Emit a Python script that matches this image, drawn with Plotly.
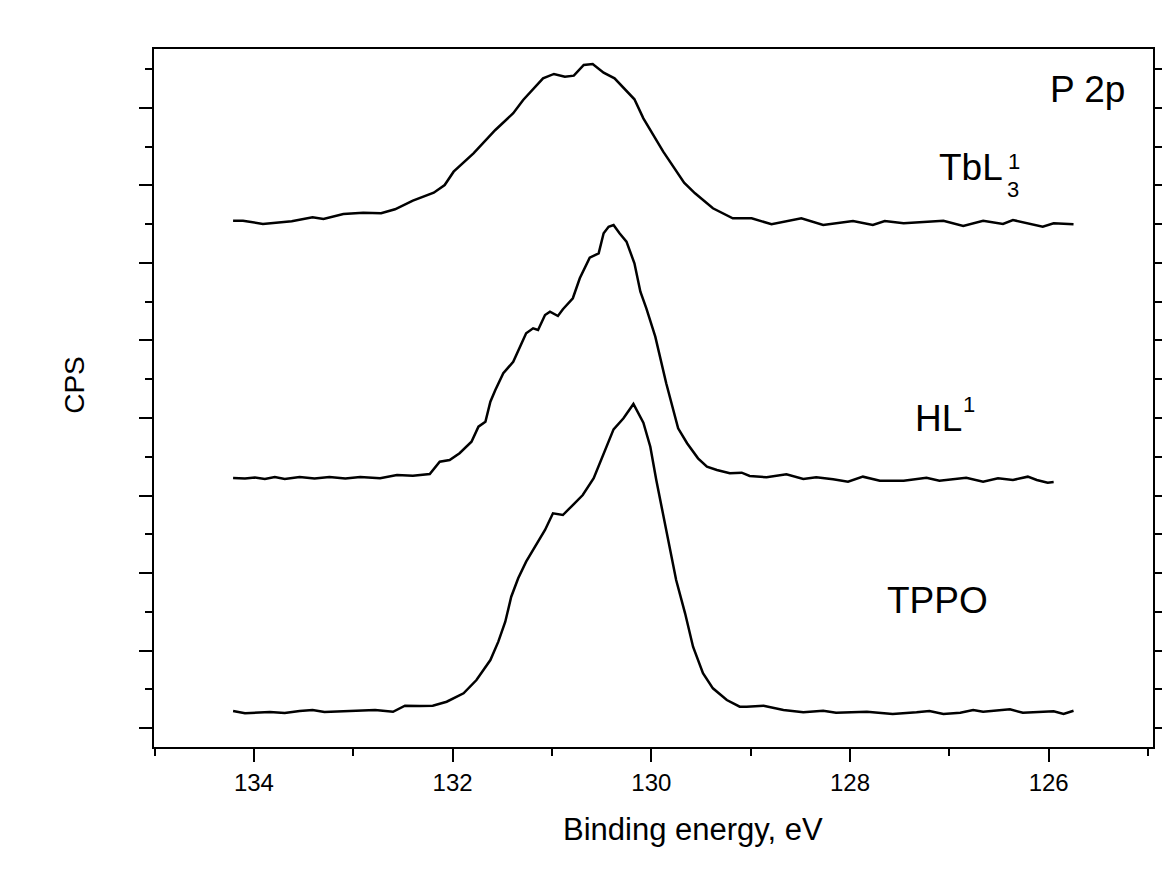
import plotly.graph_objects as go

# Binding energy (eV) and offset-stacked intensity (arb. units) for each spectrum
tppo_x = [134.21, 134.09, 133.84, 133.69, 133.54, 133.41, 133.29, 133.03, 132.78, 132.60,
          132.48, 132.33, 132.20, 132.06, 131.89, 131.76, 131.62, 131.54, 131.47, 131.41,
          131.34, 131.26, 131.17, 131.07, 130.99, 130.89, 130.79, 130.69, 130.58, 130.48,
          130.38, 130.28, 130.18, 130.08, 130.01, 129.95, 129.85, 129.75, 129.66, 129.58,
          129.48, 129.38, 129.24, 129.11, 129.04, 128.87, 128.67, 128.47, 128.27, 128.14,
          127.83, 127.57, 127.33, 127.20, 127.06, 126.89, 126.76, 126.66, 126.39, 126.26,
          125.95, 125.85, 125.75]
tppo_y = [0.219, 0.190, 0.206, 0.194, 0.219, 0.232, 0.206, 0.219, 0.232, 0.210,
          0.288, 0.284, 0.288, 0.339, 0.448, 0.619, 0.877, 1.114, 1.372, 1.694,
          1.932, 2.146, 2.339, 2.555, 2.770, 2.748, 2.877, 3.006, 3.222, 3.545,
          3.854, 3.996, 4.181, 3.939, 3.630, 3.200, 2.555, 1.910, 1.480, 1.049,
          0.706, 0.512, 0.361, 0.275, 0.275, 0.288, 0.232, 0.203, 0.223, 0.197,
          0.210, 0.181, 0.203, 0.219, 0.181, 0.197, 0.232, 0.210, 0.241, 0.197,
          0.215, 0.181, 0.223]

hl_x = [134.21, 134.09, 133.99, 133.89, 133.79, 133.69, 133.54, 133.39, 133.24, 133.08,
        132.93, 132.73, 132.56, 132.40, 132.23, 132.13, 132.03, 131.93, 131.81, 131.74,
        131.67, 131.62, 131.57, 131.49, 131.39, 131.26, 131.19, 131.14, 131.07, 131.02,
        130.94, 130.89, 130.79, 130.72, 130.62, 130.53, 130.48, 130.43, 130.38, 130.32,
        130.25, 130.17, 130.11, 130.05, 129.96, 129.85, 129.73, 129.64, 129.53, 129.44,
        129.34, 129.21, 129.09, 129.01, 128.84, 128.64, 128.47, 128.34, 128.17, 128.02,
        127.87, 127.70, 127.46, 127.23, 127.10, 126.83, 126.66, 126.51, 126.36, 126.21,
        126.12, 126.01, 125.95]
hl_y = [3.226, 3.219, 3.232, 3.213, 3.239, 3.213, 3.239, 3.219, 3.239, 3.219,
        3.239, 3.222, 3.265, 3.255, 3.277, 3.436, 3.458, 3.545, 3.694, 3.888,
        3.952, 4.210, 4.361, 4.577, 4.726, 5.093, 5.157, 5.135, 5.329, 5.372,
        5.316, 5.403, 5.545, 5.803, 6.068, 6.125, 6.383, 6.468, 6.490, 6.383,
        6.275, 5.996, 5.630, 5.415, 5.049, 4.448, 3.867, 3.674, 3.480, 3.372,
        3.329, 3.286, 3.294, 3.252, 3.235, 3.274, 3.213, 3.235, 3.209, 3.178,
        3.243, 3.191, 3.191, 3.230, 3.191, 3.230, 3.178, 3.222, 3.200, 3.243,
        3.200, 3.165, 3.174]

tbl_x = [134.21, 134.11, 133.91, 133.62, 133.41, 133.30, 133.10, 132.90, 132.72, 132.58,
         132.40, 132.19, 132.08, 131.99, 131.79, 131.57, 131.39, 131.29, 131.09, 130.98,
         130.87, 130.78, 130.68, 130.59, 130.48, 130.37, 130.17, 130.08, 129.88, 129.67,
         129.56, 129.38, 129.18, 128.99, 128.79, 128.49, 128.27, 127.97, 127.77, 127.65,
         127.46, 127.26, 127.06, 126.86, 126.66, 126.46, 126.36, 126.06, 125.95, 125.75]
tbl_y = [6.546, 6.546, 6.503, 6.538, 6.590, 6.568, 6.632, 6.649, 6.641, 6.693,
         6.804, 6.907, 7.006, 7.178, 7.415, 7.716, 7.932, 8.103, 8.383, 8.439,
         8.404, 8.417, 8.555, 8.568, 8.455, 8.383, 8.112, 7.867, 7.436, 7.036,
         6.899, 6.706, 6.577, 6.577, 6.499, 6.577, 6.490, 6.542, 6.490, 6.542,
         6.512, 6.525, 6.546, 6.477, 6.546, 6.503, 6.555, 6.468, 6.512, 6.499]

x_tick_vals = [134, 132, 130, 128, 126]
x_tick_text = ["134", "132", "130", "128", "126"]

FONT = "Liberation Sans, Arial, sans-serif"
line_style = dict(color="black", width=2.5)

fig = go.Figure()
for name, xs, ys in [("TPPO", tppo_x, tppo_y), ("HL1", hl_x, hl_y), ("TbL31", tbl_x, tbl_y)]:
    fig.add_trace(go.Scatter(x=xs, y=ys, mode="lines", line=line_style, name=name,
                             showlegend=False, hoverinfo="skip"))

labels = [
    dict(x=125.61, y=8.24, text="P 2p", size=37),
    dict(x=126.78, y=7.23, text="TbL", size=37),
    dict(x=126.35, y=7.31, text="1", size=22),
    dict(x=126.36, y=6.95, text="3", size=22),
    dict(x=127.11, y=3.99, text="HL", size=37),
    dict(x=126.80, y=4.17, text="1", size=22),
    dict(x=127.12, y=1.64, text="TPPO", size=37),
]
for lab in labels:
    fig.add_annotation(x=lab["x"], y=lab["y"], xref="x", yref="y", text=lab["text"],
                       showarrow=False, xanchor="center", yanchor="middle",
                       font=dict(family=FONT, size=lab["size"], color="black"))

fig.add_annotation(x=-0.079, y=0.519, xref="paper", yref="paper", text="CPS",
                   textangle=-90, showarrow=False, xanchor="center", yanchor="middle",
                   font=dict(family=FONT, size=28, color="black"))
fig.add_annotation(x=0.5395, y=-0.1175, xref="paper", yref="paper", text="Binding energy, eV",
                   showarrow=False, xanchor="center", yanchor="middle",
                   font=dict(family=FONT, size=31, color="black"))

fig.update_layout(
    width=1162, height=870,
    margin=dict(l=154, r=9, t=49, b=123, autoexpand=False),
    paper_bgcolor="white", plot_bgcolor="white",
    font=dict(family=FONT, color="black"),
    xaxis=dict(
        range=[135.006, 124.95], showgrid=False, zeroline=False, automargin=False,
        showline=True, linecolor="black", linewidth=2, mirror=True,
        ticks="outside", ticklen=13, tickwidth=2, tickcolor="black",
        tickvals=x_tick_vals, ticktext=x_tick_text,
        tickfont=dict(family=FONT, size=24, color="black"),
        minor=dict(dtick=1, ticks="outside", ticklen=7, tickwidth=2, tickcolor="black", showgrid=False),
    ),
    yaxis=dict(
        range=[-0.245, 8.761], showgrid=False, zeroline=False, automargin=False,
        showline=True, linecolor="black", linewidth=2, mirror="ticks",
        ticks="outside", ticklen=13, tickwidth=2, tickcolor="black",
        tick0=0, dtick=1, showticklabels=False,
        minor=dict(dtick=0.5, ticks="outside", ticklen=7, tickwidth=2, tickcolor="black", showgrid=False),
    ),
)

fig.write_html("out.html")
